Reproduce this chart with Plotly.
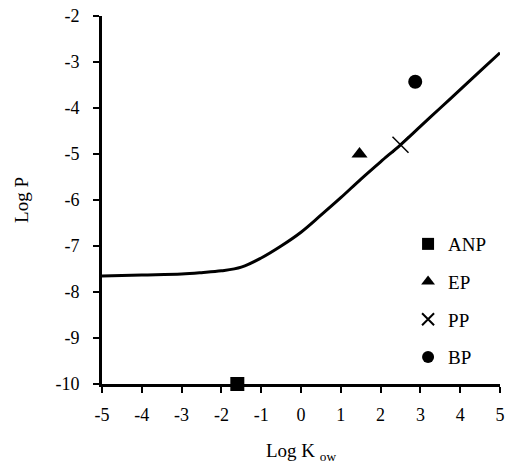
import plotly.graph_objects as go

# Model curve (Log Kow vs Log P)
curve_x = [-5, -4, -3, -2.5, -2, -1.5, -1, -0.5, 0, 0.5, 1, 1.5, 2, 2.5, 3, 3.5, 4, 4.5, 5]
curve_y = [-7.65, -7.63, -7.61, -7.58, -7.54, -7.46, -7.26, -7.0, -6.7, -6.33, -5.95,
           -5.55, -5.17, -4.8, -4.4, -4.0, -3.6, -3.2, -2.8]

# Measured compounds
names = ["ANP", "EP", "PP", "BP"]
pts_x = [-1.6, 1.47, 2.5, 2.87]
pts_y = [-10.0, -5.0, -4.8, -3.43]
symbols = ["square", "triangle-up", "x-thin", "circle"]

x_ticks = [-5, -4, -3, -2, -1, 0, 1, 2, 3, 4, 5]
y_ticks = [-2, -3, -4, -5, -6, -7, -8, -9, -10]

FONT = "Liberation Serif"

fig = go.Figure()
fig.add_trace(go.Scatter(x=curve_x, y=curve_y, mode="lines",
                         line=dict(color="black", width=3, shape="spline"),
                         showlegend=False, hoverinfo="skip", cliponaxis=False))

for i, (n, xx, yy, s) in enumerate(zip(names, pts_x, pts_y, symbols)):
    fig.add_trace(go.Scatter(
        x=[xx], y=[yy], mode="markers", name=n, legendgroup=n,
        marker=dict(symbol=s, color="black", size=14 if s != "x-thin" else 16,
                    line=dict(color="black", width=1.5 if s == "x-thin" else 0)),
        cliponaxis=False))

fig.update_layout(
    width=505, height=468,
    paper_bgcolor="white", plot_bgcolor="white",
    margin=dict(l=102, r=5, t=16, b=84, autoexpand=False),
    font=dict(family=FONT, size=18, color="black"),
    showlegend=True,
    legend=dict(x=0.769, y=0.432, xanchor="left", yanchor="top",
                bgcolor="rgba(0,0,0,0)", font=dict(family=FONT, size=19),
                tracegroupgap=10, itemsizing="constant", itemwidth=30),
    xaxis=dict(range=[-5, 5], tickvals=x_ticks, ticktext=[str(v) for v in x_ticks],
               showgrid=False, zeroline=False, showline=True, linecolor="black",
               linewidth=3, ticks="outside", ticklen=6, tickwidth=2, tickcolor="black",
               automargin=False, ticklabelstandoff=6, ticklabeloverflow="allow",
               title=dict(text="Log K <sub>ow</sub>", font=dict(family=FONT, size=19), standoff=21),
               tickfont=dict(family=FONT, size=18)),
    yaxis=dict(range=[-10, -2], tickvals=y_ticks, ticktext=[str(v) for v in y_ticks],
               showgrid=False, zeroline=False, showline=True, linecolor="black",
               linewidth=3, ticks="outside", ticklen=6, tickwidth=2, tickcolor="black",
               automargin=False, ticklabelstandoff=10, ticklabeloverflow="allow",
               title=dict(text="Log P", font=dict(family=FONT, size=19), standoff=22),
               tickfont=dict(family=FONT, size=18)),
)

# remove the browser's default body margin so the figure fills the window exactly
fig.write_html("out.html",
               config={"displayModeBar": False},
               post_script="document.body.style.margin='0';document.body.style.overflow='hidden';")
